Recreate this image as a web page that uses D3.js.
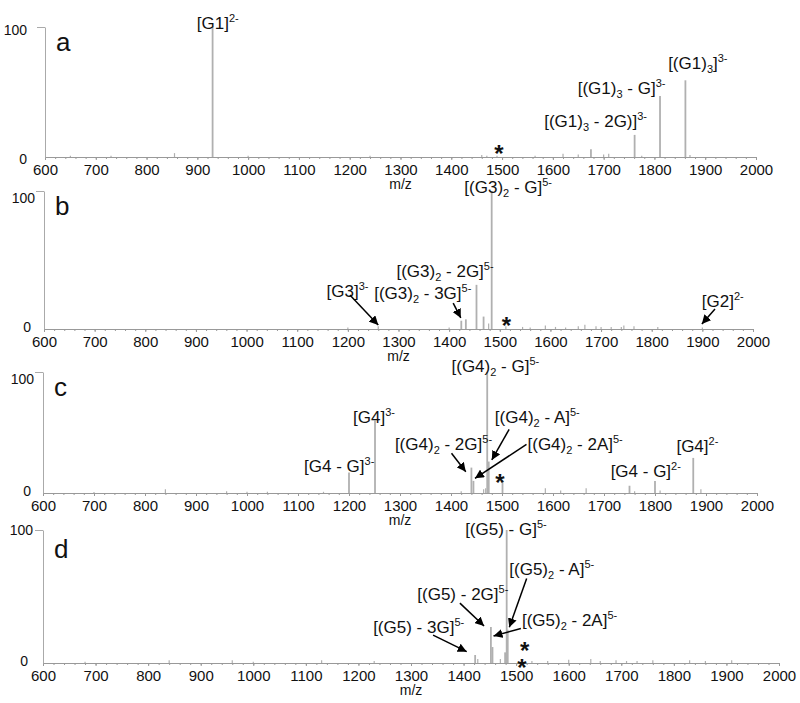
<!DOCTYPE html>
<html lang="en">
<head>
<meta charset="UTF-8">
<title>ESI-MS spectra a-d</title>
<script src="https://d3js.org/d3.v7.min.js"></script>
<style>
  body { margin: 0; background: #fff; }
  svg text { font-family: "Liberation Sans", Arial, sans-serif; fill: #111; }
</style>
</head>
<body>
<div id="chart"></div>
<script>
// axis ticks
const majorTicks = [600, 700, 800, 900, 1000, 1100, 1200, 1300, 1400, 1500, 1600, 1700, 1800, 1900, 2000];
const minorTicks = d3.range(600, 2001, 20);

// spectrum a  (m/z, relative intensity %)
const mzA  = [650, 730, 855, 930, 1000, 1240, 1460, 1470, 1490, 1565, 1620, 1650, 1675, 1700, 1710, 1761, 1775, 1811, 1861, 1870];
const intA = [1, 1, 3, 100, 1, 1, 1.5, 1, 1, 1, 2.5, 2, 6, 2, 2.5, 17, 1, 47, 59, 1.5];

// spectrum b
const mzB  = [1200, 1260, 1400, 1424, 1433, 1454, 1468, 1478, 1484, 1512, 1545, 1560, 1590, 1610, 1630, 1655, 1668, 1690, 1700, 1720, 1740, 1745, 1765, 1812, 1900];
const intB = [1, 2, 1, 6, 7, 32, 9, 4, 100, 2, 1.5, 1, 2.5, 1.5, 1, 2, 3, 2, 1.5, 1.5, 1.5, 2.5, 2, 1.5, 1];

// spectrum c
const mzC  = [700, 840, 960, 1000, 1040, 1150, 1200, 1251, 1420, 1440, 1444, 1464, 1468, 1471, 1474, 1501, 1585, 1615, 1665, 1750, 1760, 1800, 1810, 1875, 1890];
const intC = [0.8, 3, 1.5, 1, 1, 1, 17, 60, 1.5, 21, 10, 3, 4, 100, 26, 10, 4, 2, 4, 6, 1.5, 10, 2, 29, 3];

// spectrum d
const mzD  = [680, 840, 960, 1000, 1130, 1230, 1422, 1427, 1452, 1455, 1470, 1479, 1482, 1484, 1530, 1560, 1600, 1642, 1660, 1690, 1710, 1730, 1760, 1830, 1860, 1910];
const intD = [1, 2, 2, 1, 2, 1.5, 6, 3, 27, 12, 3, 8, 100, 25, 1.5, 1.5, 2.5, 3, 1.5, 2, 1.5, 1.5, 2, 2, 1.5, 2];

// peak labels: text, m/z of left edge, intensity of baseline   (_n = subscript, ^n- = superscript)
const labelsA = [["[G1]^2-", 899, 98.5], ["[(G1)_3 - G]^3-", 1649, 48.5], ["[(G1)_3]^3-", 1827, 67.7], ["[(G1)_3 - 2G)]^3-", 1583, 22.8]];
const labelsB = [["[(G3)_2 - G]^5-", 1430, 98.3], ["[(G3)_2 - 2G]^5-", 1296, 37.9], ["[(G3)_2 - 3G]^5-", 1252, 21.5], ["[G3]^3-", 1158, 23], ["[G2]^2-", 1899, 16.2]];
const labelsC = [["[(G4)_2 - G]^5-", 1401, 100.2], ["[G4]^3-", 1208, 58.1], ["[G4 - G]^3-", 1112, 17.6], ["[(G4)_2 - 2G]^5-", 1290, 35.5],
                 ["[(G4)_2 - A]^5-", 1486, 58.1], ["[(G4)_2 - 2A]^5-", 1550, 35.5], ["[G4 - G]^2-", 1713, 13.5], ["[G4]^2-", 1842, 34.1]];
const labelsD = [["[(G5) - G]^5-", 1403, 96], ["[(G5)_2 - A]^5-", 1487, 66], ["[(G5) - 2G]^5-", 1312, 47.3], ["[(G5)_2 - 2A]^5-", 1511, 27.8], ["[(G5) - 3G]^5-", 1228, 22.3]];

// arrows: from (m/z, %) to (m/z, %)
const arrowsA = [];
const arrowsB = [[1204, 24.6, 1260, 2.9], [1408, 18.8, 1423, 8], [1925, 14.5, 1899, 3.6]];
const arrowsC = [[1401, 32.8, 1429, 17.6], [1514, 52.6, 1480, 27.3], [1548, 40.2, 1447, 12.1]];
const arrowsD = [[1342, 21, 1406, 8.5], [1393, 45, 1439, 27.8], [1520, 63.5, 1487, 26.8], [1509, 26, 1457, 20.3]];

// asterisks (m/z, % of glyph baseline)
const starsA = [[1494, -3.6]];
const starsB = [[1513, -3.4]];
const starsC = [[1496, 1.9]];
const starsD = [[1516, 3.2], [1511, -9.4]];

const panels = [
  { letter: "a", mz: mzA, int: intA, labels: labelsA, arrows: arrowsA, stars: starsA,
    x0: 45, x1: 756, top: 27, base: 157, yPad: 10, yDy: 3, zeroX: 27, zeroDy: 2 },
  { letter: "b", mz: mzB, int: intB, labels: labelsB, arrows: arrowsB, stars: starsB,
    x0: 44, x1: 753, top: 191, base: 329, yPad: 1, yDy: 7, zeroX: 31, zeroDy: -2 },
  { letter: "c", mz: mzC, int: intC, labels: labelsC, arrows: arrowsC, stars: starsC,
    x0: 43, x1: 757, top: 372, base: 493, yPad: 1, yDy: 7, zeroX: 31, zeroDy: -2 },
  { letter: "d", mz: mzD, int: intD, labels: labelsD, arrows: arrowsD, stars: starsD,
    x0: 43, x1: 779, top: 530, base: 663, yPad: 2, yDy: 0, zeroX: 28, zeroDy: -2 }
];

const width = 800, height = 703;
const svg = d3.select("#chart").append("svg")
  .attr("width", width).attr("height", height);

svg.append("defs").append("marker")
  .attr("id", "head")
  .attr("viewBox", "0 0 10 10")
  .attr("refX", 10).attr("refY", 5)
  .attr("markerWidth", 9).attr("markerHeight", 9)
  .attr("markerUnits", "userSpaceOnUse")
  .attr("orient", "auto")
  .append("path").attr("d", "M0,0 L10,5 L0,10 z").attr("fill", "#000");

// writes "[(G1)_3 - G]^3-" as tspans with sub/superscripts
function richText(sel, str) {
  const parts = str.split(/(_\d|\^\d-)/).filter(s => s.length);
  let shift = 0;
  parts.forEach(p => {
    if (p[0] === "_") {
      sel.append("tspan").attr("dy", 4 - shift).attr("font-size", 11).text(p.slice(1));
      shift = 4;
    } else if (p[0] === "^") {
      sel.append("tspan").attr("dy", -7 - shift).attr("font-size", 11).text(p.slice(1));
      shift = -7;
    } else {
      sel.append("tspan").attr("dy", -shift).attr("font-size", 17).text(p);
      shift = 0;
    }
  });
}

panels.forEach(p => {
  const x = d3.scaleLinear().domain([600, 2000]).range([p.x0, p.x1]);
  const y = d3.scaleLinear().domain([0, 100]).range([p.base, p.top]);
  const g = svg.append("g");

  // peaks
  g.selectAll("line.peak")
    .data(d3.zip(p.mz, p.int))
    .join("line")
    .attr("class", "peak")
    .attr("x1", d => x(d[0])).attr("x2", d => x(d[0]))
    .attr("y1", y(0)).attr("y2", d => y(d[1]))
    .attr("stroke", "#b0b0b0")
    .attr("stroke-width", d => d[1] > 5 ? 1.8 : 1.2);

  // x axis
  const xMinor = g.append("g")
    .attr("transform", `translate(0,${p.base})`)
    .call(d3.axisBottom(x).tickValues(minorTicks).tickSize(2).tickSizeOuter(0).tickFormat(""));
  xMinor.select(".domain").remove();
  xMinor.selectAll("line").attr("stroke", "#999");

  const xAxis = g.append("g")
    .attr("transform", `translate(0,${p.base})`)
    .call(d3.axisBottom(x).tickValues(majorTicks).tickFormat(d3.format("d"))
      .tickSize(3).tickSizeOuter(0).tickPadding(4));
  xAxis.select(".domain").attr("stroke", "#999");
  xAxis.selectAll("line").attr("stroke", "#999");
  xAxis.selectAll("text").attr("font-size", 15).attr("fill", "#111");

  g.append("text")
    .attr("x", x(1300)).attr("y", p.base + 32)
    .attr("text-anchor", "middle")
    .attr("font-size", 14)
    .text("m/z");

  // y axis
  const yAxis = g.append("g")
    .attr("transform", `translate(${p.x0},0)`)
    .call(d3.axisLeft(y).tickValues([100]).tickSize(8).tickSizeOuter(0).tickPadding(p.yPad));
  yAxis.select(".domain").attr("stroke", "#aaa");
  yAxis.selectAll("line").attr("stroke", "#aaa");
  yAxis.selectAll("text").attr("font-size", 14).attr("fill", "#111")
    .attr("transform", `translate(0,${p.yDy})`);

  g.append("text")
    .attr("x", p.zeroX).attr("y", y(0) + p.zeroDy + 5)
    .attr("text-anchor", "end")
    .attr("font-size", 14)
    .text("0");

  // panel letter
  g.append("text")
    .attr("x", p.x0 + 11).attr("y", p.top + (p.letter === "d" ? 28 : 24))
    .attr("font-size", 26)
    .text(p.letter);

  // peak labels
  p.labels.forEach(l => {
    const t = g.append("text").attr("x", x(l[1])).attr("y", y(l[2]));
    richText(t, l[0]);
  });

  // arrows
  g.selectAll("line.arrow")
    .data(p.arrows)
    .join("line")
    .attr("class", "arrow")
    .attr("x1", d => x(d[0])).attr("y1", d => y(d[1]))
    .attr("x2", d => x(d[2])).attr("y2", d => y(d[3]))
    .attr("stroke", "#000").attr("stroke-width", 1.5)
    .attr("marker-end", "url(#head)");

  // asterisks
  g.selectAll("text.star")
    .data(p.stars)
    .join("text")
    .attr("class", "star")
    .attr("x", d => x(d[0])).attr("y", d => y(d[1]))
    .attr("text-anchor", "middle")
    .attr("font-size", 24).attr("font-weight", "bold")
    .text("*");
});
</script>
</body>
</html>
